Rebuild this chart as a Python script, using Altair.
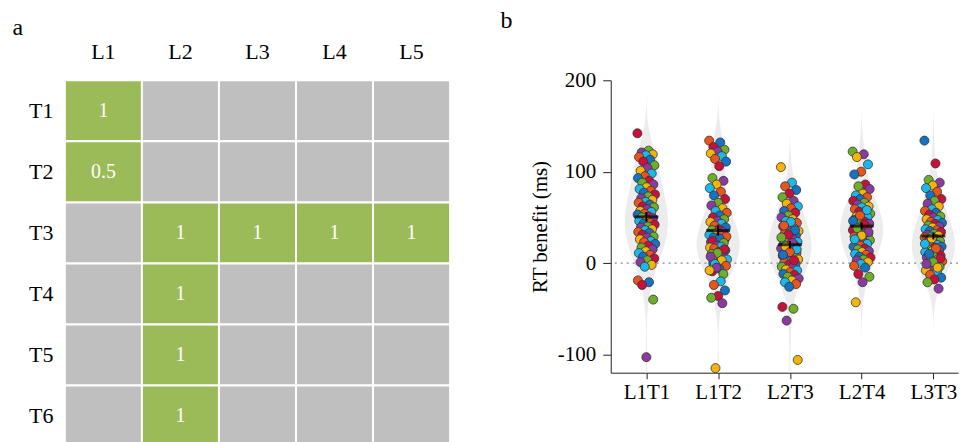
import altair as alt
import pandas as pd

FONT = "Liberation Serif"

# ---------------- panel a data ----------------
rows = ["T1", "T2", "T3", "T4", "T5", "T6"]
cols = ["L1", "L2", "L3", "L4", "L5"]
cell_rows = ["T1", "T2", "T3", "T3", "T3", "T3", "T4", "T5", "T6"]
cell_cols = ["L1", "L1", "L2", "L3", "L4", "L5", "L2", "L2", "L2"]
cell_vals = ["1", "0.5", "1", "1", "1", "1", "1", "1", "1"]

# ---------------- panel b data ----------------
conds = ["L1T1", "L1T2", "L2T3", "L2T4", "L3T3"]
l1t1 = [142, 123, 121, 119, 118, 116, 113, 111, 107, 104, 101, 98, 95, 93, 90, 88, 86, 83, 81, 79,
        77, 75, 73, 71, 69, 67, 66, 64, 62, 61, 59, 57, 56, 54, 53, 51, 50, 49, 47, 46, 44, 43, 42,
        40, 39, 37, 36, 34, 33, 31, 29, 28, 26, 24, 23, 21, 19, 17, 15, 13, 11, 9, 7, 5, 3, 1, -2,
        -4, -19, -21, -24, -40, -103]
l1t2 = [134, 132, 127, 124, 122, 120, 117, 114, 111, 106, 93, 90, 86, 82, 78, 74, 70, 66, 63, 60,
        57, 55, 52, 50, 48, 46, 45, 43, 41, 39, 37, 36, 34, 33, 31, 30, 28, 26, 25, 23, 21, 20, 29,
        27, 24, 22, 19, 17, 18, 16, 14, 12, 10, 8, 6, 4, 2, 0, 15, 11, 7, 3, -1, -3, -6, -9, -12,
        -5, -8, -20, -24, -30, -36, -38, -44, -115]
l2t3 = [105, 88, 84, 80, 76, 72, 68, 65, 62, 60, 57, 55, 52, 50, 48, 46, 44, 42, 40, 38, 37, 35,
        33, 32, 30, 29, 27, 26, 24, 23, 21, 20, 19, 17, 16, 14, 13, 11, 10, 8, 7, 5, 4, 2, 1, -1,
        -2, -4, -5, -7, -8, -10, -12, -13, -15, -17, -19, -21, -23, -26, -48, -50, -63, -106, 45,
        41, 36, 31, 28, 22, 18, 15, 12, 9, 3]
l2t4 = [122, 119, 116, 108, 100, 97, 86, 84, 81, 76, 74, 72, 70, 68, 66, 64, 62, 61, 59, 57, 56,
        54, 53, 51, 50, 48, 47, 45, 44, 43, 41, 40, 39, 37, 36, 35, 33, 32, 31, 29, 28, 27, 25, 24,
        22, 21, 19, 18, 16, 15, 13, 12, 10, 9, 7, 6, 4, 3, 1, -1, -3, -5, -12, -15, -21, -43, 58,
        52, 46, 42, 38, 34, 30, 26]
l3t3 = [134, 109, 91, 88, 85, 82, 78, 74, 70, 68, 65, 62, 59, 57, 55, 53, 51, 50, 48, 47, 45, 44,
        43, 41, 40, 39, 37, 36, 35, 34, 32, 31, 30, 29, 28, 26, 25, 24, 23, 22, 20, 19, 18, 17, 15,
        14, 13, 12, 11, 9, 8, 7, 6, 4, 3, 2, 0, -2, -4, -6, -8, -10, -13, -16, -18, -21, -28, 27,
        21, 16, 10, 5, 1, -1, -5]
series = [l1t1, l1t2, l2t3, l2t4, l3t3]
dot_colors = ["#C8103C", "#E8561E", "#F4B408", "#6FAE2A", "#1672C2", "#1DB8EA", "#8B3BA0"]

# ---------------- panel a ----------------
grid = pd.DataFrame([(r, c) for r in rows for c in cols], columns=["row", "col"])
cells = pd.DataFrame({"row": cell_rows, "col": cell_cols, "val": cell_vals})
grid = grid.merge(cells, how="left", on=["row", "col"])
grid["state"] = grid["val"].notna().map({True: "on", False: "off"})
grid["val"] = grid["val"].fillna("")

panel_title = dict(titleFont=FONT, titleFontSize=24, titleFontWeight="normal", titleColor="black",
                   titleAngle=0, titleAlign="left", titleBaseline="alphabetic")

xg = alt.X("col:N", sort=cols, scale=alt.Scale(paddingInner=0, paddingOuter=0),
           title="a",
           axis=alt.Axis(orient="top", domain=False, ticks=False, tickSize=0,
                         labelAngle=0, labelPadding=17, labelFontSize=22,
                         titleX=-53, titleY=-46, **panel_title))
yg = alt.Y("row:N", sort=rows, scale=alt.Scale(paddingInner=0, paddingOuter=0),
           axis=alt.Axis(title=None, domain=False, ticks=False, tickSize=0,
                         labelPadding=12, labelFontSize=22))

rects = alt.Chart(grid).mark_rect(stroke="white", strokeWidth=2).encode(
    x=xg, y=yg,
    color=alt.Color("state:N", scale=alt.Scale(domain=["on", "off"], range=["#9BBB59", "#BFBFBF"]),
                    legend=None))
texts = alt.Chart(grid).mark_text(color="white", font=FONT, fontSize=20).encode(
    x=xg, y=yg, text="val:N")

left = alt.layer(rects, texts).properties(width=386, height=367)

# ---------------- panel b ----------------
recs = []
for k, (c, vals) in enumerate(zip(conds, series)):
    for i, v in enumerate(vals):
        jit = (((i * 0.618034) % 1.0) - 0.5) * 0.25
        recs.append({"cond": c, "idx": k + 1, "value": v, "xj": k + 1 + jit,
                     "dot": str((i * 3 + k) % 7)})
pts = pd.DataFrame(recs)

PW, PH = 348, 293
xscale = alt.Scale(domain=[0.503, 0.503 + PW / 71.9], nice=False, zero=False)
yscale = alt.Scale(domain=[-120, 200], nice=False, zero=False)
label_expr = "['', 'L1T1', 'L1T2', 'L2T3', 'L2T4', 'L3T3'][datum.value]"
ylabel_expr = "datum.value < 0 ? '-' + abs(datum.value) : '' + datum.value"

xaxis = alt.Axis(values=[1, 2, 3, 4, 5], labelExpr=label_expr, grid=False,
                 tickSize=6, labelPadding=3, domainColor="#222", tickColor="#222",
                 titleX=-111, titleY=-(PH + 53), **panel_title)
yaxis = alt.Axis(values=[-100, 0, 100, 200], labelExpr=ylabel_expr, title="RT benefit (ms)",
                 grid=False, tickSize=8, labelPadding=7, titlePadding=7,
                 domainColor="#222", tickColor="#222")

base = alt.Chart(pts)

violin = base.transform_density(
    "value", groupby=["idx"], as_=["value", "density"], bandwidth=19,
    extent=[-120, 200], steps=220
).transform_joinaggregate(
    maxd="max(density)", groupby=["idx"]
).transform_calculate(
    lo="datum.idx - datum.density / datum.maxd * 0.3",
    hi="datum.idx + datum.density / datum.maxd * 0.3"
).mark_area(orient="horizontal", color="#ECECEC").encode(
    y=alt.Y("value:Q", scale=yscale, axis=yaxis),
    x=alt.X("lo:Q", scale=xscale, axis=xaxis, title="b"),
    x2="hi:Q",
    detail="idx:N")

zero = alt.Chart(pd.DataFrame({"z": [0]})).mark_rule(
    color="#888888", strokeDash=[2, 4], strokeWidth=1.3).encode(y="z:Q")

dots = base.mark_circle(size=82, opacity=1, stroke="#333333", strokeWidth=0.8).encode(
    x="xj:Q", y="value:Q",
    color=alt.Color("dot:N", scale=alt.Scale(domain=[str(i) for i in range(7)], range=dot_colors),
                    legend=None))

means = base.transform_aggregate(
    m="mean(value)", se="stderr(value)", groupby=["idx"]
).transform_calculate(lo="datum.m - datum.se", hi="datum.m + datum.se")

mean_tick = means.mark_tick(orient="horizontal", size=24, thickness=3, color="black").encode(
    x="idx:Q", y="m:Q")
err = means.mark_rule(color="black", strokeWidth=2).encode(x="idx:Q", y="lo:Q", y2="hi:Q")

right = alt.layer(violin, zero, dots, err, mean_tick).properties(width=PW, height=PH)

chart = alt.hconcat(left, right, spacing=49).resolve_scale(color="independent").properties(
    padding={"left": 4, "top": 0, "right": 0, "bottom": 0}
).configure_view(stroke=None).configure_axis(
    labelFont=FONT, titleFont=FONT, labelFontSize=21, titleFontSize=21,
    titleFontWeight="normal", labelColor="black", titleColor="black"
)

chart.save("out.html", embed_options={"renderer": "svg", "actions": False})
